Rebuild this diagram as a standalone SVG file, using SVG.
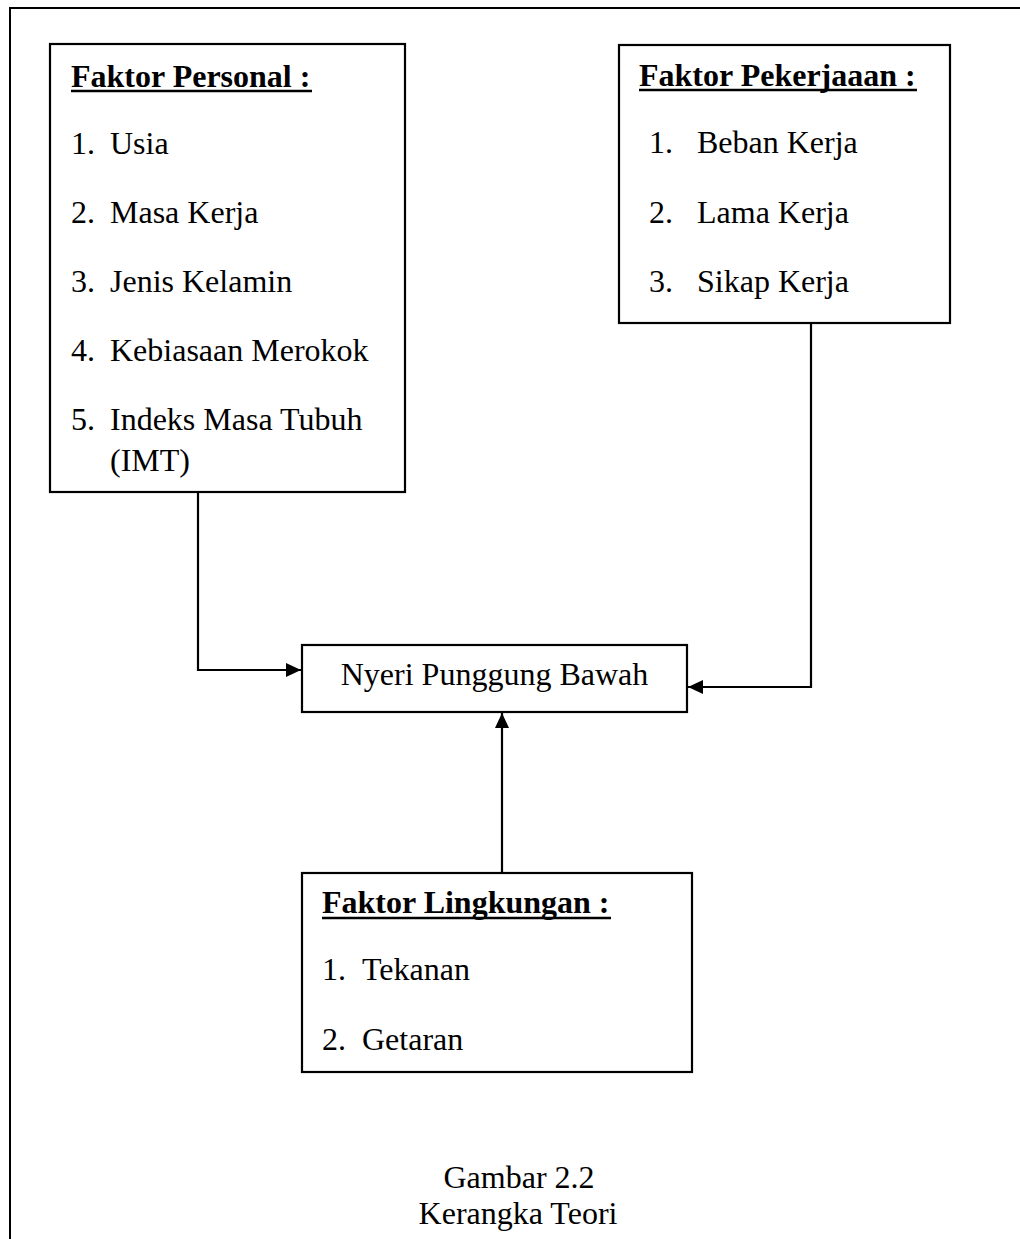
<svg xmlns="http://www.w3.org/2000/svg" width="1020" height="1239" viewBox="0 0 1020 1239">
<style>
.box{fill:#fff;stroke:#000;stroke-width:2.2}
.t{font-family:"Liberation Serif","Times New Roman",serif;font-size:32px;fill:#000}
.b{font-weight:bold}
.ul{stroke:#000;stroke-width:2.6}
.c{fill:none;stroke:#000;stroke-width:2.2}
.frame{fill:none;stroke:#000;stroke-width:2}
</style>
<defs>
<marker id="arr" markerUnits="userSpaceOnUse" markerWidth="16" markerHeight="14" refX="15" refY="7" orient="auto">
<path d="M0,0 L15,7 L0,14 Z" fill="#000"/>
</marker>
</defs>
<rect width="1020" height="1239" fill="#fff"/>
<path class="frame" d="M10,1239 V8 H1020"/>
<g id="connectors">
<path class="c" d="M198,492 V670 H301" marker-end="url(#arr)"/>
<path class="c" d="M811,323 V687 H688" marker-end="url(#arr)"/>
<path class="c" d="M502,873 V713" marker-end="url(#arr)"/>
</g>
<g id="faktor-personal">
<rect class="box" x="50" y="44" width="355" height="448"/>
<text class="t b" x="71" y="87">Faktor Personal :</text>
<line class="ul" x1="71" y1="91" x2="312" y2="91"/>
<text class="t" x="71" y="154">1.</text><text class="t" x="110" y="154">Usia</text>
<text class="t" x="71" y="223">2.</text><text class="t" x="110" y="223">Masa Kerja</text>
<text class="t" x="71" y="292">3.</text><text class="t" x="110" y="292">Jenis Kelamin</text>
<text class="t" x="71" y="361">4.</text><text class="t" x="110" y="361">Kebiasaan Merokok</text>
<text class="t" x="71" y="430">5.</text><text class="t" x="110" y="430">Indeks Masa Tubuh</text>
<text class="t" x="110" y="471">(IMT)</text>
</g>
<g id="faktor-pekerjaan">
<rect class="box" x="619" y="45" width="331" height="278"/>
<text class="t b" x="639" y="86">Faktor Pekerjaaan :</text>
<line class="ul" x1="639" y1="90" x2="917" y2="90"/>
<text class="t" x="649" y="153">1.</text><text class="t" x="697" y="153">Beban Kerja</text>
<text class="t" x="649" y="223">2.</text><text class="t" x="697" y="223">Lama Kerja</text>
<text class="t" x="649" y="292">3.</text><text class="t" x="697" y="292">Sikap Kerja</text>
</g>
<g id="nyeri-punggung-bawah">
<rect class="box" x="302" y="645" width="385" height="67"/>
<text class="t" x="494.5" y="685" text-anchor="middle">Nyeri Punggung Bawah</text>
</g>
<g id="faktor-lingkungan">
<rect class="box" x="302" y="873" width="390" height="199"/>
<text class="t b" x="322" y="913">Faktor Lingkungan :</text>
<line class="ul" x1="322" y1="918" x2="611" y2="918"/>
<text class="t" x="322" y="980">1.</text><text class="t" x="362" y="980">Tekanan</text>
<text class="t" x="322" y="1050">2.</text><text class="t" x="362" y="1050">Getaran</text>
</g>
<g id="caption">
<text class="t" x="519" y="1188" text-anchor="middle">Gambar 2.2</text>
<text class="t" x="518" y="1224" text-anchor="middle">Kerangka Teori</text>
</g>
</svg>
